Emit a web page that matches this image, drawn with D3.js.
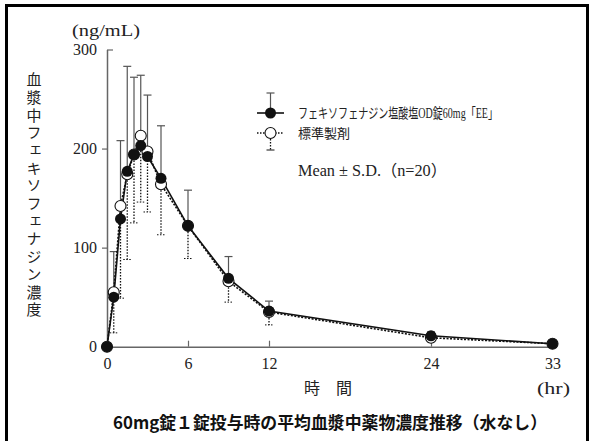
<!DOCTYPE html>
<html>
<head>
<meta charset="utf-8">
<script src="https://cdn.jsdelivr.net/npm/d3@7"></script>
<style>
  body { margin: 0; background: #fff; }
  svg { display: block; }
</style>
</head>
<body>
<div id="chart"></div>
<script>
// time points (hr)
var hours = [0, 0.5, 1, 1.5, 2, 2.5, 3, 4, 6, 9, 12, 24, 33];
// フェキソフェナジン塩酸塩OD錠60mg「EE」 mean / SD (ng/mL)
var testMean = [0, 50, 129, 177, 194, 203, 192, 170, 122, 69, 36, 11, 3];
var testSD = [0, 46, 79, 106, 78, 71, 62, 53, 36, 22, 10, 4, 2];
// 標準製剤 mean / SD
var refMean = [0, 55, 142, 174, 194, 213, 197, 164, 122, 66, 35, 9, 3];
var refSD = [0, 41, 93, 86, 69, 67, 61, 51, 33, 21, 13, 4, 2];

var xTicks = [0, 6, 12, 24, 33];
var yTicks = [0, 100, 200, 300];

var testName = "フェキソフェナジン塩酸塩OD錠60mg「EE」";
var refName = "標準製剤";
var yLabel = "血漿中フェキソフェナジン濃度";
var caption = "60mg錠１錠投与時の平均血漿中薬物濃度推移（水なし）";

var W = 592, H = 441;
var serif = "'Liberation Serif', 'Noto Sans CJK JP', serif";
var jp = "'Noto Sans CJK JP', sans-serif";

var svg = d3.select("#chart").append("svg")
  .attr("width", W).attr("height", H);

// outer frame
svg.append("rect")
  .attr("x", 6.5).attr("y", 5.5)
  .attr("width", 581).attr("height", 460)
  .attr("fill", "none").attr("stroke", "#000").attr("stroke-width", 3);

var x = d3.scaleLinear().domain([0, 33]).range([107, 552.5]);
var y = d3.scaleLinear().domain([0, 300]).range([346.7, 49.5]);

var axisColor = "#666";

// axes
var xAxis = svg.append("g")
  .attr("transform", "translate(0," + y(0) + ")")
  .call(d3.axisBottom(x).tickValues(xTicks).tickSizeInner(-6).tickSizeOuter(0).tickPadding(11));
var yAxis = svg.append("g")
  .attr("transform", "translate(" + x(0) + ",0)")
  .call(d3.axisLeft(y).tickValues(yTicks).tickSizeInner(5).tickSizeOuter(0).tickPadding(5));

[xAxis, yAxis].forEach(function(g) {
  g.select(".domain").attr("stroke", axisColor).attr("stroke-width", 1.5);
  g.selectAll(".tick line").attr("stroke", axisColor).attr("stroke-width", 1.2);
  g.selectAll("text").attr("fill", "#222").style("font-family", serif).style("font-size", "16px");
});
// no tick at zero of y axis, top tick points inward
yAxis.selectAll(".tick").filter(function(d) { return d === 0; }).select("line").remove();
yAxis.selectAll(".tick").filter(function(d) { return d === 300; }).select("line").attr("x2", 6);
xAxis.selectAll(".tick").filter(function(d) { return d === 0 || d === 33; }).select("line").remove();

// reference: dotted error bars (downwards)
var capW = 4;
var refBars = svg.append("g").attr("stroke", "#111").attr("stroke-width", 1.3).attr("stroke-dasharray", "1.5,1.5");
hours.forEach(function(t, i) {
  if (refSD[i] <= 0) return;
  refBars.append("line")
    .attr("x1", x(t)).attr("x2", x(t))
    .attr("y1", y(refMean[i])).attr("y2", y(refMean[i] - refSD[i]));
  refBars.append("line")
    .attr("stroke-dasharray", null).attr("stroke-width", 1)
    .attr("x1", x(t) - capW).attr("x2", x(t) + capW)
    .attr("y1", y(refMean[i] - refSD[i])).attr("y2", y(refMean[i] - refSD[i]));
});

// test: solid error bars (upwards)
var testBars = svg.append("g").attr("stroke", "#555").attr("stroke-width", 1.2);
hours.forEach(function(t, i) {
  if (testSD[i] <= 0) return;
  testBars.append("line")
    .attr("x1", x(t)).attr("x2", x(t))
    .attr("y1", y(testMean[i])).attr("y2", y(testMean[i] + testSD[i]));
  testBars.append("line")
    .attr("x1", x(t) - capW).attr("x2", x(t) + capW)
    .attr("y1", y(testMean[i] + testSD[i])).attr("y2", y(testMean[i] + testSD[i]));
});

var refLine = d3.line().x(function(d, i) { return x(hours[i]); }).y(function(d) { return y(d); });

svg.append("path").datum(refMean)
  .attr("d", refLine)
  .attr("fill", "none").attr("stroke", "#111").attr("stroke-width", 1.6)
  .attr("stroke-dasharray", "2,1.5");
svg.append("path").datum(testMean)
  .attr("d", refLine)
  .attr("fill", "none").attr("stroke", "#111").attr("stroke-width", 1.6);

var r = 5.5;
svg.append("g").selectAll("circle").data(refMean).enter().append("circle")
  .attr("cx", function(d, i) { return x(hours[i]); })
  .attr("cy", function(d) { return y(d); })
  .attr("r", r).attr("fill", "#fff").attr("stroke", "#111").attr("stroke-width", 1.1);
svg.append("g").selectAll("circle").data(testMean).enter().append("circle")
  .attr("cx", function(d, i) { return x(hours[i]); })
  .attr("cy", function(d) { return y(d); })
  .attr("r", r).attr("fill", "#111");

// legend
var lg = svg.append("g");
lg.append("line").attr("x1", 257).attr("x2", 284).attr("y1", 113).attr("y2", 113)
  .attr("stroke", "#111").attr("stroke-width", 1.6);
lg.append("line").attr("x1", 270.5).attr("x2", 270.5).attr("y1", 113).attr("y2", 93)
  .attr("stroke", "#555").attr("stroke-width", 1.2);
lg.append("line").attr("x1", 266.5).attr("x2", 274.5).attr("y1", 93).attr("y2", 93)
  .attr("stroke", "#555").attr("stroke-width", 1.2);
lg.append("circle").attr("cx", 270.5).attr("cy", 113).attr("r", r).attr("fill", "#111");

lg.append("line").attr("x1", 257).attr("x2", 284).attr("y1", 133).attr("y2", 133)
  .attr("stroke", "#111").attr("stroke-width", 1.3).attr("stroke-dasharray", "1.5,1.5");
lg.append("line").attr("x1", 270.5).attr("x2", 270.5).attr("y1", 133).attr("y2", 150)
  .attr("stroke", "#111").attr("stroke-width", 1.3).attr("stroke-dasharray", "1.5,1.5");
lg.append("line").attr("x1", 266.5).attr("x2", 274.5).attr("y1", 150).attr("y2", 150)
  .attr("stroke", "#111").attr("stroke-width", 1);
lg.append("circle").attr("cx", 270.5).attr("cy", 133).attr("r", r)
  .attr("fill", "#fff").attr("stroke", "#111").attr("stroke-width", 1.1);

lg.append("text").attr("x", 298).attr("y", 118)
  .attr("textLength", 200).attr("lengthAdjust", "spacingAndGlyphs")
  .style("font-family", serif).style("font-size", "14px").attr("fill", "#222")
  .text(testName);
lg.append("text").attr("x", 298).attr("y", 138)
  .style("font-family", jp).style("font-size", "13px").attr("fill", "#222")
  .text(refName);
lg.append("text").attr("x", 298).attr("y", 176)
  .attr("textLength", 149).attr("lengthAdjust", "spacingAndGlyphs")
  .style("font-family", serif).style("font-size", "16px").attr("fill", "#222")
  .text("Mean ± S.D.（n=20）");

// unit and axis titles
svg.append("text").attr("x", 72).attr("y", 36)
  .attr("textLength", 68).attr("lengthAdjust", "spacingAndGlyphs")
  .style("font-family", serif).style("font-size", "16px").attr("fill", "#222")
  .text("(ng/mL)");

svg.append("text")
  .attr("x", 34).attr("y", 72)
  .style("writing-mode", "vertical-rl")
  .style("font-family", jp).style("font-size", "15px")
  .style("letter-spacing", "2.7px")
  .attr("fill", "#222")
  .text(yLabel);

svg.append("text").attr("x", 328).attr("y", 394)
  .attr("text-anchor", "middle")
  .style("font-family", jp).style("font-size", "16px").attr("fill", "#222")
  .text("時　間");
svg.append("text").attr("x", 537).attr("y", 394)
  .attr("textLength", 33).attr("lengthAdjust", "spacingAndGlyphs")
  .style("font-family", serif).style("font-size", "17px").attr("fill", "#222")
  .text("(hr)");

svg.append("text").attr("x", 113).attr("y", 429)
  .attr("textLength", 434).attr("lengthAdjust", "spacingAndGlyphs")
  .style("font-family", jp).style("font-size", "17px").style("font-weight", "bold")
  .attr("fill", "#111")
  .text(caption);
</script>
</body>
</html>
